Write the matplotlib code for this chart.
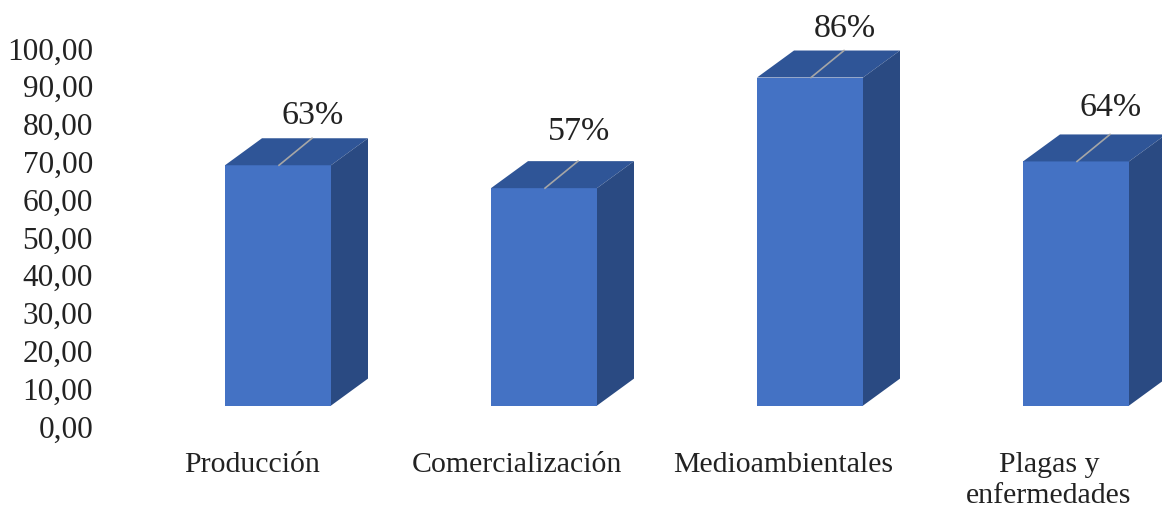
import matplotlib
matplotlib.use("Agg")
import matplotlib.pyplot as plt
from matplotlib.patches import Polygon

categories = ["Producción", "Comercialización", "Medioambientales", "Plagas y\nenfermedades"]
values = [63, 57, 86, 64]
labels = ["63%", "57%", "86%", "64%"]
yticks = [0, 10, 20, 30, 40, 50, 60, 70, 80, 90, 100]

W, H = 1162, 510
plt.rcParams['font.family'] = ['Liberation Serif', 'DejaVu Serif']
fig = plt.figure(figsize=(W/100, H/100), dpi=100)
x0, x1 = 145, 1162
y_bot, scale = 406.6, 3.815
y_top = y_bot - 100*scale
ax = fig.add_axes([x0/W, 1 - y_bot/H, (x1-x0)/W, (y_bot-y_top)/H])
ax.set_xlim(x0, x1)
ax.set_ylim(0, 100)
ax.axis("off")

centers = [278, 544, 810, 1076]
label_offsets = [24, 30, 23, 28]
bw = 106
dx, dy = 37, 27
FRONT, TOP, SIDE = "#4472C4", "#2F5597", "#2A4A82"
for c, v, lab, off in zip(centers, values, labels, label_offsets):
    l, r = c - bw/2, c + bw/2
    ddy = dy / scale
    ax.bar(c, v, width=bw, color=FRONT, linewidth=0, zorder=3)
    ax.add_patch(Polygon([(l, v), (r, v), (r+dx, v+ddy), (l+dx, v+ddy)], closed=True, fc=TOP, ec="none", clip_on=False, zorder=3))
    ax.add_patch(Polygon([(r, 0), (r+dx, ddy), (r+dx, v+ddy), (r, v)], closed=True, fc=SIDE, ec="none", clip_on=False, zorder=3))
    ax.plot([c+1, c+dx-3], [v, v+ddy], color="#A6A6A6", lw=1.2, clip_on=False, zorder=4)
    ax.text(c+35, v+ddy+off/scale, lab, ha="center", va="center", fontsize=24.5, color="#222222", clip_on=False, zorder=5)

tick_ax = fig.add_axes([0, 1 - 430/H, 95/W, (430-52)/H])
tick_ax.set_xlim(0, 95)
tick_ax.set_ylim(0, 100)
tick_ax.axis("off")
for t in yticks:
    tick_ax.text(93, t, f"{t:.2f}".replace(".", ","), ha="right", va="center", fontsize=22.5, color="#222222", clip_on=False)

for cat, cx in zip(categories, [252, 517, 783, 1049]):
    fig.text(cx/W, 1 - 452/H, cat, ha="center", va="top", fontsize=21.5, color="#222222", linespacing=1.27)

fig.savefig("out.png", dpi=100)
